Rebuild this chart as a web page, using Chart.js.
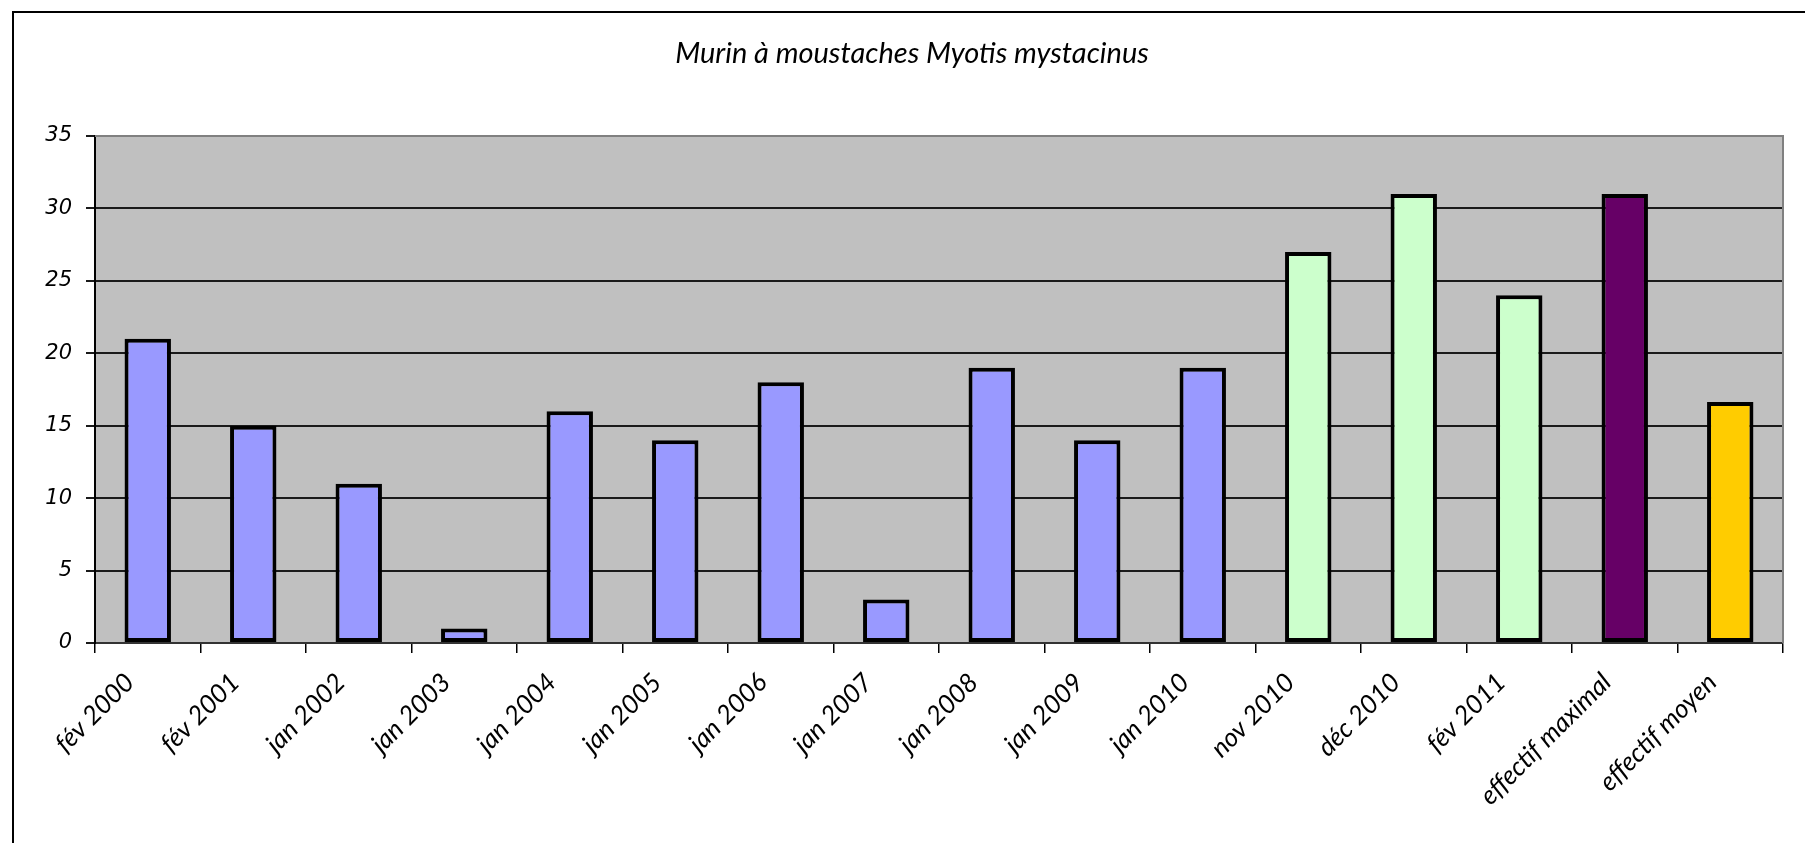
<!DOCTYPE html>
<html>
<head>
<meta charset="utf-8">
<script src="https://cdn.jsdelivr.net/npm/chart.js@4.4.1/dist/chart.umd.min.js"></script>
<style>
  html, body { margin: 0; padding: 0; background: #ffffff; }
  #wrap { position: relative; width: 1805px; height: 843px; }
  canvas { display: block; }
</style>
</head>
<body>
<div id="wrap"><canvas id="c" width="1805" height="843"></canvas></div>
<script>
// ---- data ----
const chartTitle = "Murin à moustaches Myotis mystacinus";
const categories = ["fév 2000", "fév 2001", "jan 2002", "jan 2003", "jan 2004", "jan 2005", "jan 2006", "jan 2007", "jan 2008", "jan 2009", "jan 2010", "nov 2010", "déc 2010", "fév 2011", "effectif maximal", "effectif moyen"];
const counts = [21, 15, 11, 1, 16, 14, 18, 3, 19, 14, 19, 27, 31, 24, 31, 16.64];
const yTicks = [0, 5, 10, 15, 20, 25, 30, 35];

// ---- styles ----
const barColors = ["#9999FF", "#9999FF", "#9999FF", "#9999FF", "#9999FF", "#9999FF", "#9999FF", "#9999FF", "#9999FF", "#9999FF", "#9999FF",
                   "#CCFFCC", "#CCFFCC", "#CCFFCC", "#660066", "#FFCC00"];

const decor = {
  id: 'decor',
  beforeDraw(chart) {
    const { ctx, chartArea: a } = chart;
    ctx.save();
    ctx.fillStyle = '#C0C0C0';
    ctx.fillRect(a.left, a.top, a.right - a.left, a.bottom - a.top);
    ctx.restore();
  },
  afterDraw(chart) {
    const { ctx, chartArea: a } = chart;
    ctx.save();
    // plot area border (top & right)
    ctx.strokeStyle = '#808080';
    ctx.lineWidth = 2;
    ctx.beginPath();
    ctx.moveTo(a.left, a.top);
    ctx.lineTo(a.right, a.top);
    ctx.lineTo(a.right, a.bottom);
    ctx.stroke();
    // outer chart border
    ctx.strokeStyle = '#000000';
    ctx.lineWidth = 2;
    ctx.beginPath();
    ctx.moveTo(13, 850);
    ctx.lineTo(13, 12);
    ctx.lineTo(1810, 12);
    ctx.stroke();
    // title
    ctx.fillStyle = '#000000';
    ctx.font = 'italic 29px Lato, "Open Sans", sans-serif';
    ctx.textAlign = 'center';
    ctx.textBaseline = 'middle';
    ctx.fillText(chartTitle, 912, 54);
    ctx.restore();
  }
};

new Chart(document.getElementById('c'), {
  type: 'bar',
  data: {
    labels: categories,
    datasets: [{
      data: counts,
      backgroundColor: barColors,
      borderColor: '#000000',
      borderWidth: 4,
      borderSkipped: false,
      categoryPercentage: 1.0,
      barPercentage: 0.44
    }]
  },
  options: {
    responsive: false,
    animation: false,
    events: [],
    layout: { padding: { top: 136, right: 22, left: 0, bottom: 0 } },
    plugins: {
      legend: { display: false },
      title: { display: false },
      tooltip: { enabled: false }
    },
    scales: {
      x: {
        offset: true,
        grid: {
          offset: true,
          drawOnChartArea: false,
          drawTicks: true,
          tickLength: 10,
          color: '#000000',
          lineWidth: 1.5
        },
        border: { display: true, color: '#333333', width: 2 },
        ticks: {
          autoSkip: false,
          maxRotation: 45,
          minRotation: 45,
          padding: 14,
          labelOffset: -18,
          color: '#000000',
          font: { family: 'Lato, "Open Sans", sans-serif', size: 26, style: 'italic' }
        },
        afterFit(scale) { scale.height = 200; }
      },
      y: {
        min: 0,
        max: 35,
        afterBuildTicks(scale) { scale.ticks = yTicks.map(v => ({ value: v })); },
        grid: {
          drawTicks: true,
          tickLength: 9,
          color: '#1a1a1a',
          lineWidth: 2
        },
        border: { display: true, color: '#000000', width: 2 },
        ticks: {
          padding: 14,
          color: '#000000',
          font: { family: '"DejaVu Sans", Verdana, sans-serif', size: 21, style: 'italic' }
        },
        afterFit(scale) { scale.width = 95; }
      }
    }
  },
  plugins: [decor]
});
</script>
</body>
</html>
